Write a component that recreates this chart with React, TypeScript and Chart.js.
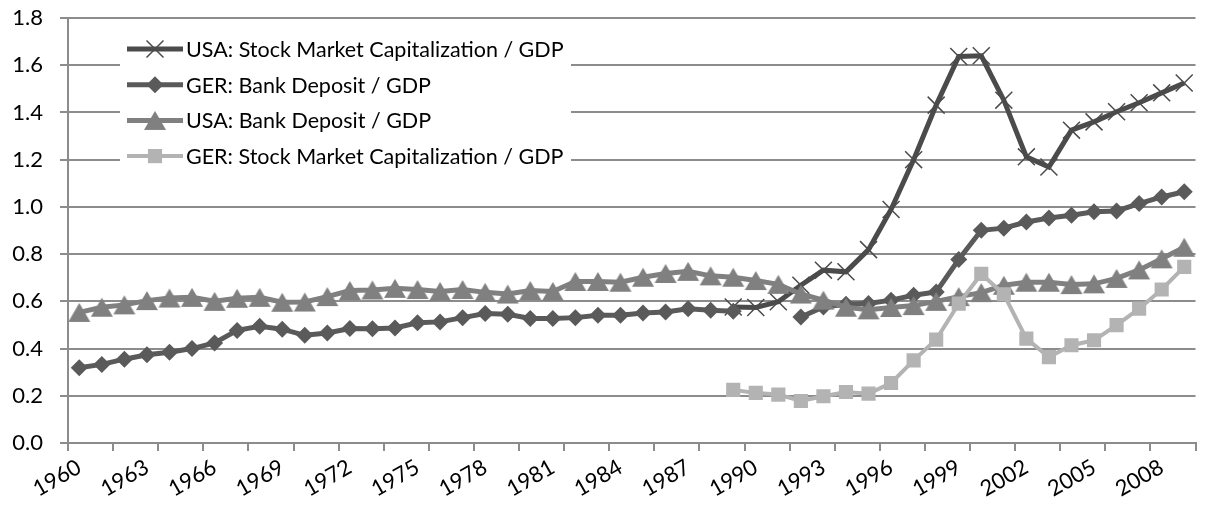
import React, { useEffect, useRef } from 'react';
import { Chart, registerables } from 'chart.js';

Chart.register(...registerables);

// ---------- data ----------
const years = [
  '1960', '1961', '1962', '1963', '1964', '1965', '1966', '1967', '1968', '1969',
  '1970', '1971', '1972', '1973', '1974', '1975', '1976', '1977', '1978', '1979',
  '1980', '1981', '1982', '1983', '1984', '1985', '1986', '1987', '1988', '1989',
  '1990', '1991', '1992', '1993', '1994', '1995', '1996', '1997', '1998', '1999',
  '2000', '2001', '2002', '2003', '2004', '2005', '2006', '2007', '2008', '2009',
];

const labeledYears = [
  '1960', '1963', '1966', '1969', '1972', '1975', '1978', '1981', '1984',
  '1987', '1990', '1993', '1996', '1999', '2002', '2005', '2008',
];

// USA: Stock Market Capitalization / GDP (1989 - 2009)
const usaStockFrom = '1989';
const usaStock = [
  0.576, 0.574, 0.598, 0.668, 0.732, 0.725, 0.819, 0.989, 1.2, 1.431,
  1.637, 1.64, 1.452, 1.212, 1.169, 1.325, 1.36, 1.403, 1.441, 1.483, 1.525,
];

// GER: Bank Deposit / GDP (1960 - 2009)
const gerBank = [
  0.319, 0.333, 0.355, 0.374, 0.384, 0.4, 0.424, 0.477, 0.494, 0.482,
  0.456, 0.466, 0.485, 0.484, 0.487, 0.509, 0.513, 0.531, 0.548, 0.545,
  0.527, 0.527, 0.531, 0.541, 0.541, 0.551, 0.555, 0.569, 0.562, 0.558,
  null, null, 0.534, 0.576, 0.588, 0.591, 0.605, 0.626, 0.64, 0.777,
  0.901, 0.91, 0.936, 0.953, 0.965, 0.979, 0.983, 1.014, 1.042, 1.064,
];

// USA: Bank Deposit / GDP (1960 - 2009)
const usaBank = [
  0.553, 0.575, 0.585, 0.603, 0.614, 0.617, 0.6, 0.613, 0.617, 0.596,
  0.597, 0.62, 0.646, 0.648, 0.655, 0.65, 0.642, 0.65, 0.638, 0.631,
  0.646, 0.642, 0.684, 0.684, 0.681, 0.702, 0.718, 0.727, 0.708, 0.702,
  0.688, 0.672, 0.631, 0.605, 0.575, 0.564, 0.574, 0.582, 0.6, 0.62,
  0.637, 0.668, 0.681, 0.681, 0.671, 0.674, 0.697, 0.733, 0.78, 0.829,
];

// GER: Stock Market Capitalization / GDP (1989 - 2009)
const gerStockFrom = '1989';
const gerStock = [
  0.225, 0.212, 0.205, 0.178, 0.198, 0.216, 0.209, 0.254, 0.35, 0.438,
  0.59, 0.716, 0.63, 0.442, 0.364, 0.414, 0.435, 0.499, 0.569, 0.65, 0.746,
];

const seriesNames = [
  'USA: Stock Market Capitalization / GDP',
  'GER: Bank Deposit / GDP',
  'USA: Bank Deposit / GDP',
  'GER: Stock Market Capitalization / GDP',
];

const yMin = 0;
const yMax = 1.8;
const yStep = 0.2;

// ---------- styles ----------
const FONT = 'Lato, "Open Sans", sans-serif';
const FONT_SIZE = 22;
const LEGEND_FONT_SIZE = 21.5;
const GRID = '#8c8c8c';
const C_USA_STOCK = '#4b4b4b';
const C_GER_BANK = '#5a5a5a';
const C_USA_BANK = '#808080';
const C_GER_STOCK = '#b3b3b3';

function alignFrom(from: string, values: number[]) {
  const start = years.indexOf(from);
  return years.map((_, i) => {
    const k = i - start;
    return k >= 0 && k < values.length ? values[k] : null;
  });
}

function makeTriangle(color: string) {
  const w = 22;
  const h = 19;
  const c = document.createElement('canvas');
  c.width = w + 2;
  c.height = h + 2;
  const g = c.getContext('2d')!;
  g.fillStyle = color;
  g.beginPath();
  g.moveTo(1 + w / 2, 1);
  g.lineTo(1 + w, 1 + h);
  g.lineTo(1, 1 + h);
  g.closePath();
  g.fill();
  return c;
}

function drawMarker(ctx: CanvasRenderingContext2D, ds: any, x: number, y: number) {
  const style = ds.pointStyle;
  const r = ds.pointRadius;
  ctx.save();
  if (typeof style === 'object') {
    ctx.drawImage(style, x - style.width / 2, y - style.height / 2);
  } else if (style === 'crossRot') {
    const d = Math.SQRT1_2 * r;
    ctx.strokeStyle = ds.pointBorderColor;
    ctx.lineWidth = ds.pointBorderWidth;
    ctx.beginPath();
    ctx.moveTo(x - d, y - d);
    ctx.lineTo(x + d, y + d);
    ctx.moveTo(x - d, y + d);
    ctx.lineTo(x + d, y - d);
    ctx.stroke();
  } else if (style === 'rectRot') {
    ctx.fillStyle = ds.pointBackgroundColor;
    ctx.beginPath();
    ctx.moveTo(x - r, y);
    ctx.lineTo(x, y - r);
    ctx.lineTo(x + r, y);
    ctx.lineTo(x, y + r);
    ctx.closePath();
    ctx.fill();
  } else if (style === 'rect') {
    const s = Math.SQRT1_2 * r;
    ctx.fillStyle = ds.pointBackgroundColor;
    ctx.fillRect(x - s, y - s, 2 * s, 2 * s);
  }
  ctx.restore();
}

const excelLegend = {
  id: 'excelLegend',
  afterDraw(chart: any) {
    const ctx: CanvasRenderingContext2D = chart.ctx;
    const area = chart.chartArea;
    const left = area.left + 52;
    const top = area.top + 12;
    const width = 451;
    const height = 146;
    ctx.save();
    ctx.fillStyle = '#ffffff';
    ctx.fillRect(left, top, width, height);
    const rowGap = 35.7;
    const firstRow = top + 19;
    const lineStart = left + 7;
    const lineEnd = left + 63;
    ctx.font = `${LEGEND_FONT_SIZE}px ${FONT}`;
    ctx.textBaseline = 'middle';
    ctx.textAlign = 'left';
    const sets = chart.data.datasets;
    for (let i = 0; i < sets.length; i++) {
      const ds = sets[i];
      const y = firstRow + i * rowGap;
      ctx.strokeStyle = ds.borderColor;
      ctx.lineWidth = ds.borderWidth;
      ctx.beginPath();
      ctx.moveTo(lineStart, y);
      ctx.lineTo(lineEnd, y);
      ctx.stroke();
      drawMarker(ctx, ds, (lineStart + lineEnd) / 2, y);
      ctx.fillStyle = '#000000';
      ctx.fillText(ds.label, lineEnd + 3, y + 1);
    }
    ctx.restore();
  },
};

export default function App() {
  const canvasRef = useRef<HTMLCanvasElement | null>(null);

  useEffect(() => {
    const canvas = canvasRef.current;
    if (!canvas) return;
    const tri = makeTriangle(C_USA_BANK);

    const chart = new Chart(canvas, {
      type: 'line',
      data: {
        labels: years,
        datasets: [
          {
            label: seriesNames[0],
            data: alignFrom(usaStockFrom, usaStock),
            borderColor: C_USA_STOCK,
            borderWidth: 5,
            pointStyle: 'crossRot',
            pointRadius: 12,
            pointBorderColor: C_USA_STOCK,
            pointBackgroundColor: C_USA_STOCK,
            pointBorderWidth: 1.5,
            tension: 0,
            spanGaps: false,
            order: 4,
          },
          {
            label: seriesNames[1],
            data: gerBank,
            borderColor: C_GER_BANK,
            borderWidth: 5,
            pointStyle: 'rectRot',
            pointRadius: 8.5,
            pointBorderColor: C_GER_BANK,
            pointBackgroundColor: C_GER_BANK,
            pointBorderWidth: 0,
            tension: 0,
            spanGaps: false,
            order: 3,
          },
          {
            label: seriesNames[2],
            data: usaBank,
            borderColor: C_USA_BANK,
            borderWidth: 5,
            pointStyle: tri as any,
            pointRadius: 11,
            pointBorderColor: C_USA_BANK,
            pointBackgroundColor: C_USA_BANK,
            pointBorderWidth: 0,
            tension: 0,
            spanGaps: false,
            order: 2,
          },
          {
            label: seriesNames[3],
            data: alignFrom(gerStockFrom, gerStock),
            borderColor: C_GER_STOCK,
            borderWidth: 4,
            pointStyle: 'rect',
            pointRadius: 10,
            pointBorderColor: C_GER_STOCK,
            pointBackgroundColor: C_GER_STOCK,
            pointBorderWidth: 0,
            tension: 0,
            spanGaps: false,
            order: 1,
          },
        ],
      },
      options: {
        responsive: false,
        animation: false,
        events: [],
        layout: { padding: { top: 18, right: 6, left: 0, bottom: 0 } },
        font: { family: FONT, size: FONT_SIZE },
        plugins: {
          legend: { display: false },
          tooltip: { enabled: false },
        },
        scales: {
          x: {
            type: 'category',
            offset: true,
            afterFit: (s: any) => {
              s.height = 70;
              s.paddingTop = 0;
              s.paddingBottom = 0;
            },
            grid: {
              display: true,
              drawOnChartArea: false,
              drawTicks: true,
              tickLength: 8,
              offset: true,
              lineWidth: 2,
              color: (c: any) =>
                c.index === undefined || c.index % 2 === 0 ? GRID : 'rgba(0,0,0,0)',
            },
            border: { display: true, color: GRID, width: 2 },
            ticks: {
              autoSkip: false,
              minRotation: 30,
              maxRotation: 30,
              padding: 3,
              color: '#000000',
              font: { family: FONT, size: FONT_SIZE },
              callback: function (this: any, _v: any, i: number) {
                const lab = years[i];
                return labeledYears.includes(lab) ? lab : '';
              },
            },
          },
          y: {
            type: 'linear',
            min: yMin,
            max: yMax,
            afterFit: (s: any) => {
              s.width = 68;
              s.paddingTop = 0;
              s.paddingBottom = 0;
            },
            grid: {
              color: GRID,
              lineWidth: 2,
              drawTicks: true,
              tickLength: 8,
            },
            border: { display: true, color: GRID, width: 2 },
            ticks: {
              stepSize: yStep,
              padding: 17,
              color: '#000000',
              font: { family: FONT, size: FONT_SIZE },
              callback: (v: any) => Number(v).toFixed(1),
            },
          },
        },
      } as any,
      plugins: [excelLegend],
    });

    return () => chart.destroy();
  }, []);

  return (
    <div style={{ position: 'absolute', left: 0, top: 0, width: 1209, height: 513, background: '#fff' }}>
      <canvas ref={canvasRef} width={1209} height={513} style={{ display: 'block' }} />
    </div>
  );
}
